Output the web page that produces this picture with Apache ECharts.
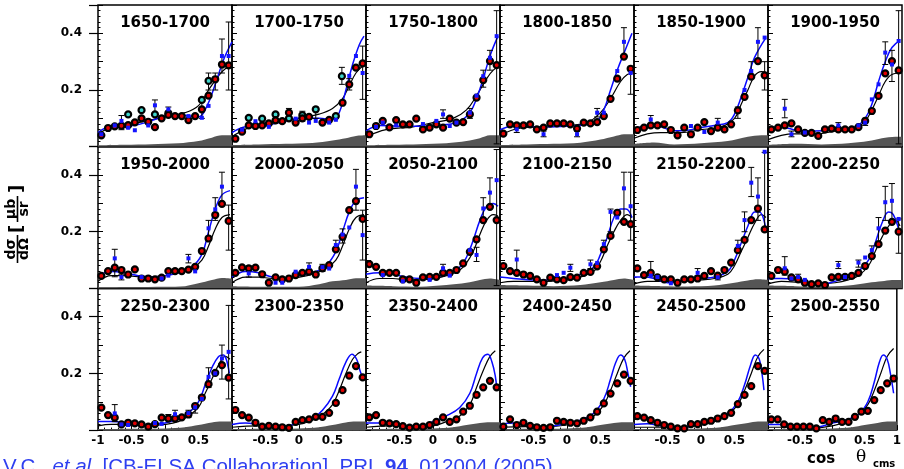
<!DOCTYPE html>
<html><head><meta charset="utf-8">
<script src="https://cdn.jsdelivr.net/npm/echarts@6/dist/echarts.min.js"></script>
<style>html,body{margin:0;padding:0;background:#fff}#c{width:904px;height:469px}</style>
</head><body><div id="c"></div>
<script>
// ---------- DATA ----------
const panelTitles = ['1650-1700','1700-1750','1750-1800','1800-1850','1850-1900','1900-1950',
  '1950-2000','2000-2050','2050-2100','2100-2150','2150-2200','2200-2250',
  '2250-2300','2300-2350','2350-2400','2400-2450','2450-2500','2500-2550'];
const yTickLabels = [0.2, 0.4];
const xTickLabels = [-1, -0.5, 0, 0.5, 1];

// Panel 1
const red1 = [[-0.95,0.04],[-0.85,0.066],[-0.75,0.072],[-0.65,0.074],[-0.55,0.076],[-0.45,0.086],[-0.35,0.1],[-0.25,0.088],[-0.15,0.069],[-0.05,0.1],[0.05,0.112],[0.15,0.108],[0.25,0.108],[0.35,0.094],[0.45,0.108],[0.55,0.132],[0.65,0.18],[0.75,0.238],[0.85,0.29],[0.95,0.287]];
const cyan1 = [[-0.55,0.114],[-0.35,0.129],[-0.15,0.114],[0.05,0.118],[0.55,0.165],[0.65,0.232]];
const blue1 = [[-0.95,0.044],[-0.75,0.075],[-0.65,0.091],[-0.55,0.067],[-0.45,0.058],[-0.25,0.075],[-0.15,0.146],[0.05,0.132],[0.35,0.108],[0.55,0.102],[0.65,0.144],[0.85,0.32],[0.95,0.32]];
const err1 = [[-0.65,0.06,0.11],[-0.15,0.12,0.165],[0.05,0.12,0.14],[0.55,0.1,0.16],[0.65,0.2,0.26],[0.75,0.2,0.26],[0.85,0.26,0.38],[0.95,0.2,0.44]];
const black1 = [[-1,0.045],[-0.8,0.068],[-0.6,0.075],[-0.3,0.09],[0,0.105],[0.3,0.12],[0.5,0.145],[0.65,0.2],[0.8,0.25],[0.9,0.275],[1,0.285]];
const bluec1 = [[-1,0.05],[-0.8,0.072],[-0.5,0.074],[-0.2,0.092],[0,0.108],[0.3,0.11],[0.5,0.105],[0.62,0.14],[0.75,0.22],[0.88,0.31],[1,0.37]];
const band1 = [[-1,0.005],[-0.6,0.007],[-0.2,0.009],[0.2,0.012],[0.5,0.02],[0.7,0.032],[0.85,0.04],[1,0.04]];
// Panel 2
const red2 = [[-0.95,0.028],[-0.85,0.053],[-0.75,0.075],[-0.65,0.073],[-0.55,0.075],[-0.45,0.082],[-0.35,0.093],[-0.25,0.09],[-0.15,0.12],[-0.05,0.085],[0.05,0.1],[0.15,0.105],[0.35,0.085],[0.45,0.095],[0.65,0.155],[0.75,0.22],[0.85,0.279],[0.95,0.294]];
const cyan2 = [[-0.75,0.102],[-0.55,0.099],[-0.35,0.114],[-0.15,0.1],[0.05,0.111],[0.25,0.132],[0.55,0.108],[0.64,0.249]];
const blue2 = [[-0.85,0.06],[-0.65,0.09],[-0.45,0.07],[-0.05,0.099],[0.15,0.085],[0.25,0.091],[0.45,0.085],[0.55,0.095],[0.75,0.25],[0.85,0.32],[0.95,0.26]];
const err2 = [[-0.15,0.1,0.135],[0.05,0.09,0.125],[0.25,0.1,0.14],[0.64,0.22,0.28],[0.75,0.2,0.24],[0.95,0.167,0.355]];
const black2 = [[-1,0.035],[-0.8,0.062],[-0.6,0.075],[-0.3,0.09],[0,0.1],[0.3,0.115],[0.5,0.135],[0.65,0.17],[0.75,0.215],[0.85,0.26],[0.95,0.285],[1,0.29]];
const bluec2 = [[-1,0.05],[-0.8,0.07],[-0.5,0.075],[-0.2,0.09],[0,0.1],[0.3,0.1],[0.5,0.095],[0.6,0.12],[0.7,0.2],[0.8,0.29],[0.9,0.36],[0.97,0.39]];
const band2 = [[-1,0.006],[-0.6,0.008],[-0.2,0.01],[0.2,0.013],[0.5,0.022],[0.7,0.03],[0.85,0.038],[1,0.04]];
// Panel 3
const red3 = [[-0.95,0.044],[-0.85,0.073],[-0.75,0.091],[-0.65,0.068],[-0.55,0.094],[-0.45,0.079],[-0.35,0.079],[-0.25,0.099],[-0.15,0.061],[-0.05,0.067],[0.05,0.079],[0.15,0.067],[0.25,0.099],[0.35,0.085],[0.45,0.087],[0.55,0.114],[0.65,0.173],[0.75,0.235],[0.85,0.302],[0.95,0.288]];
const blue3 = [[-0.85,0.07],[-0.75,0.085],[-0.55,0.075],[-0.15,0.08],[0.05,0.091],[0.15,0.114],[0.25,0.073],[0.35,0.085],[0.55,0.12],[0.65,0.18],[0.75,0.249],[0.85,0.314],[0.95,0.39]];
const err3 = [[0.15,0.1,0.13],[0.55,0.1,0.135],[0.75,0.21,0.27],[0.85,0.27,0.34],[0.95,0.01,0.48]];
const black3 = [[-1,0.035],[-0.7,0.06],[-0.3,0.07],[0,0.085],[0.3,0.1],[0.5,0.13],[0.65,0.18],[0.8,0.24],[0.9,0.27],[1,0.285]];
const bluec3 = [[-1,0.055],[-0.8,0.075],[-0.5,0.072],[-0.2,0.072],[0.2,0.078],[0.4,0.09],[0.55,0.12],[0.65,0.17],[0.75,0.24],[0.85,0.32],[0.97,0.39]];
const band3 = [[-1,0.005],[-0.6,0.007],[-0.2,0.009],[0.2,0.012],[0.5,0.02],[0.7,0.03],[0.85,0.04],[1,0.04]];
// Panel 4
const red4 = [[-0.95,0.046],[-0.85,0.079],[-0.75,0.075],[-0.65,0.075],[-0.55,0.079],[-0.45,0.061],[-0.35,0.067],[-0.25,0.082],[-0.15,0.082],[-0.05,0.082],[0.05,0.079],[0.15,0.064],[0.25,0.085],[0.35,0.082],[0.45,0.087],[0.55,0.108],[0.65,0.169],[0.75,0.24],[0.85,0.318],[0.95,0.275]];
const blue4 = [[-0.75,0.061],[-0.35,0.044],[0.15,0.044],[0.45,0.12],[0.55,0.12],[0.75,0.267],[0.85,0.37],[0.95,0.26]];
const err4 = [[-0.75,0.05,0.075],[-0.35,0.035,0.055],[0.15,0.035,0.055],[0.45,0.105,0.135],[0.85,0.32,0.42],[0.95,0.185,0.28]];
const black4 = [[-1,0.04],[-0.7,0.065],[-0.3,0.07],[0,0.075],[0.3,0.085],[0.5,0.12],[0.65,0.17],[0.8,0.23],[0.9,0.255],[1,0.26]];
const bluec4 = [[-1,0.06],[-0.8,0.072],[-0.4,0.07],[0,0.072],[0.3,0.078],[0.45,0.09],[0.55,0.13],[0.65,0.2],[0.75,0.27],[0.85,0.33],[0.97,0.4]];
const band4 = [[-1,0.006],[-0.6,0.008],[-0.2,0.01],[0.2,0.014],[0.5,0.025],[0.7,0.036],[0.85,0.044],[1,0.044]];
// Panel 5
const red5 = [[-0.95,0.059],[-0.85,0.067],[-0.75,0.075],[-0.65,0.075],[-0.55,0.079],[-0.45,0.059],[-0.35,0.04],[-0.25,0.067],[-0.15,0.044],[-0.05,0.067],[0.05,0.087],[0.15,0.055],[0.25,0.067],[0.35,0.061],[0.45,0.079],[0.55,0.128],[0.65,0.176],[0.75,0.247],[0.85,0.302],[0.95,0.252]];
const blue5 = [[-0.75,0.096],[-0.15,0.073],[0.05,0.052],[0.25,0.085],[0.65,0.2],[0.75,0.267],[0.85,0.37],[0.95,0.385]];
const err5 = [[-0.75,0.08,0.11],[0.25,0.07,0.1],[0.55,0.1,0.14],[0.75,0.24,0.3],[0.85,0.3,0.42],[0.95,0.2,0.3]];
const black5 = [[-1,0.03],[-0.8,0.045],[-0.6,0.05],[-0.3,0.05],[0,0.06],[0.3,0.07],[0.5,0.1],[0.6,0.15],[0.7,0.2],[0.8,0.25],[0.9,0.265],[1,0.26]];
const bluec5 = [[-1,0.06],[-0.8,0.075],[-0.6,0.07],[-0.4,0.056],[-0.2,0.058],[0,0.068],[0.2,0.075],[0.4,0.085],[0.5,0.115],[0.6,0.175],[0.7,0.245],[0.8,0.315],[0.97,0.385]];
const band5 = [[-1,0.01],[-0.7,0.015],[-0.4,0.008],[0,0.012],[0.4,0.02],[0.7,0.035],[0.9,0.04],[1,0.04]];
// Panel 6
const red6 = [[-0.95,0.061],[-0.85,0.067],[-0.75,0.075],[-0.65,0.082],[-0.55,0.061],[-0.45,0.049],[-0.35,0.049],[-0.25,0.038],[-0.15,0.061],[-0.05,0.064],[0.05,0.061],[0.15,0.061],[0.25,0.061],[0.35,0.069],[0.45,0.091],[0.55,0.126],[0.65,0.179],[0.75,0.259],[0.85,0.302],[0.95,0.269]];
const blue6 = [[-0.75,0.134],[-0.65,0.044],[-0.45,0.05],[0.05,0.075],[0.35,0.075],[0.45,0.085],[0.55,0.167],[0.65,0.22],[0.75,0.332],[0.85,0.29],[0.95,0.373]];
const err6 = [[-0.75,0.102,0.167],[-0.65,0.035,0.055],[0.05,0.065,0.085],[0.45,0.075,0.1],[0.75,0.29,0.37],[0.85,0.23,0.34],[0.95,0.01,0.48]];
const black6 = [[-1,0.025],[-0.8,0.04],[-0.6,0.045],[-0.3,0.045],[0,0.055],[0.3,0.065],[0.45,0.09],[0.55,0.13],[0.65,0.18],[0.75,0.23],[0.85,0.255],[1,0.26]];
const bluec6 = [[-1,0.06],[-0.85,0.07],[-0.7,0.065],[-0.5,0.055],[-0.3,0.055],[0,0.06],[0.3,0.07],[0.45,0.1],[0.55,0.15],[0.65,0.23],[0.75,0.3],[0.85,0.35],[0.97,0.375]];
const band6 = [[-1,0.006],[-0.6,0.01],[-0.2,0.008],[0.2,0.012],[0.5,0.02],[0.7,0.03],[0.9,0.035],[1,0.035]];
// Panel 7
const red7 = [[-0.95,0.044],[-0.85,0.061],[-0.75,0.073],[-0.65,0.065],[-0.55,0.049],[-0.45,0.067],[-0.35,0.035],[-0.25,0.035],[-0.15,0.032],[-0.05,0.038],[0.05,0.061],[0.15,0.061],[0.25,0.061],[0.35,0.066],[0.45,0.076],[0.55,0.132],[0.65,0.176],[0.75,0.259],[0.85,0.298],[0.95,0.238]];
const blue7 = [[-0.75,0.106],[-0.65,0.04],[-0.35,0.04],[-0.05,0.035],[0.05,0.045],[0.35,0.106],[0.45,0.06],[0.65,0.212],[0.75,0.279],[0.85,0.359]];
const err7 = [[-0.75,0.041,0.138],[-0.65,0.03,0.05],[0.35,0.09,0.12],[0.65,0.18,0.24],[0.75,0.24,0.32],[0.85,0.3,0.41],[0.95,0.135,0.294]];
const black7 = [[-1,0.025],[-0.8,0.045],[-0.6,0.045],[-0.3,0.04],[0,0.045],[0.2,0.055],[0.4,0.07],[0.55,0.1],[0.65,0.15],[0.75,0.21],[0.85,0.25],[0.97,0.26]];
const bluec7 = [[-1,0.045],[-0.8,0.06],[-0.6,0.055],[-0.4,0.045],[-0.2,0.04],[0,0.045],[0.2,0.055],[0.4,0.075],[0.55,0.12],[0.65,0.2],[0.75,0.28],[0.85,0.33],[0.97,0.345]];
const band7 = [[-1,0.004],[-0.5,0.005],[0,0.006],[0.3,0.008],[0.5,0.018],[0.7,0.03],[0.85,0.037],[1,0.035]];
// Panel 8
const red8 = [[-0.95,0.055],[-0.85,0.074],[-0.75,0.071],[-0.65,0.073],[-0.55,0.05],[-0.45,0.02],[-0.35,0.039],[-0.25,0.032],[-0.15,0.035],[-0.05,0.047],[0.05,0.055],[0.15,0.059],[0.25,0.049],[0.35,0.071],[0.45,0.082],[0.55,0.138],[0.65,0.182],[0.75,0.276],[0.85,0.308],[0.95,0.245]];
const blue8 = [[-0.75,0.053],[-0.35,0.02],[-0.25,0.02],[-0.05,0.059],[0.15,0.076],[0.35,0.075],[0.45,0.07],[0.55,0.153],[0.65,0.19],[0.75,0.215],[0.85,0.359],[0.95,0.188]];
const err8 = [[-0.75,0.04,0.08],[0.15,0.065,0.09],[0.35,0.06,0.085],[0.55,0.13,0.17],[0.65,0.16,0.21],[0.85,0.276,0.42],[0.95,0.1,0.276]];
const black8 = [[-1,0.02],[-0.8,0.04],[-0.6,0.04],[-0.4,0.035],[-0.2,0.035],[0,0.04],[0.2,0.05],[0.4,0.07],[0.55,0.1],[0.65,0.15],[0.75,0.21],[0.85,0.25],[0.97,0.26]];
const bluec8 = [[-1,0.04],[-0.8,0.06],[-0.6,0.055],[-0.4,0.04],[-0.2,0.035],[0,0.045],[0.2,0.055],[0.4,0.08],[0.55,0.13],[0.65,0.2],[0.75,0.27],[0.85,0.31],[0.97,0.32]];
const band8 = [[-1,0.008],[-0.5,0.006],[0,0.006],[0.3,0.015],[0.5,0.025],[0.7,0.03],[0.85,0.036],[1,0.036]];
// Panel 9
const red9 = [[-0.95,0.086],[-0.85,0.076],[-0.75,0.055],[-0.65,0.055],[-0.55,0.055],[-0.45,0.032],[-0.35,0.032],[-0.25,0.02],[-0.15,0.039],[-0.05,0.041],[0.05,0.041],[0.15,0.055],[0.25,0.055],[0.35,0.065],[0.45,0.088],[0.55,0.129],[0.65,0.173],[0.75,0.241],[0.85,0.288],[0.95,0.241]];
const blue9 = [[-0.75,0.047],[-0.45,0.025],[-0.05,0.03],[0.15,0.071],[0.25,0.045],[0.55,0.135],[0.65,0.118],[0.75,0.282],[0.85,0.338],[0.95,0.382]];
const err9 = [[-0.75,0.035,0.06],[0.15,0.055,0.085],[0.65,0.095,0.145],[0.75,0.24,0.32],[0.85,0.29,0.39],[0.95,0.01,0.49]];
const black9 = [[-1,0.02],[-0.8,0.035],[-0.6,0.035],[-0.4,0.03],[-0.2,0.03],[0,0.035],[0.2,0.045],[0.4,0.065],[0.5,0.09],[0.6,0.13],[0.7,0.19],[0.8,0.24],[0.9,0.26],[0.97,0.255]];
const bluec9 = [[-1,0.05],[-0.8,0.055],[-0.6,0.05],[-0.4,0.04],[-0.2,0.035],[0,0.04],[0.2,0.05],[0.4,0.075],[0.5,0.11],[0.6,0.17],[0.7,0.24],[0.8,0.29],[0.9,0.3],[0.97,0.29]];
const band9 = [[-1,0.01],[-0.6,0.008],[-0.2,0.006],[0.2,0.012],[0.5,0.02],[0.7,0.03],[0.85,0.035],[1,0.03]];
// Panel 10
const red10 = [[-0.95,0.079],[-0.85,0.061],[-0.75,0.055],[-0.65,0.049],[-0.55,0.044],[-0.45,0.032],[-0.35,0.02],[-0.25,0.038],[-0.15,0.032],[-0.05,0.029],[0.05,0.04],[0.15,0.038],[0.25,0.055],[0.35,0.058],[0.45,0.078],[0.55,0.138],[0.65,0.185],[0.75,0.267],[0.85,0.235],[0.95,0.227]];
const blue10 = [[-0.75,0.102],[-0.15,0.047],[-0.05,0.055],[0.05,0.073],[0.35,0.085],[0.45,0.09],[0.55,0.156],[0.65,0.27],[0.75,0.25],[0.85,0.353],[0.95,0.29]];
const err10 = [[-0.75,0.059,0.135],[0.05,0.06,0.085],[0.35,0.07,0.1],[0.55,0.13,0.17],[0.65,0.2,0.28],[0.85,0.235,0.41],[0.95,0.17,0.41]];
const black10 = [[-1,0.02],[-0.8,0.025],[-0.5,0.025],[-0.3,0.025],[0,0.03],[0.2,0.04],[0.4,0.06],[0.5,0.095],[0.6,0.15],[0.7,0.2],[0.8,0.24],[0.9,0.26],[0.97,0.25]];
const bluec10 = [[-1,0.04],[-0.8,0.035],[-0.5,0.03],[-0.3,0.03],[0,0.035],[0.2,0.05],[0.4,0.075],[0.5,0.12],[0.6,0.18],[0.7,0.25],[0.8,0.28],[0.88,0.28],[0.97,0.25]];
const band10 = [[-1,0.012],[-0.6,0.01],[-0.2,0.008],[0.2,0.012],[0.5,0.022],[0.7,0.03],[0.85,0.035],[1,0.03]];
// Panel 11
const red11 = [[-0.95,0.071],[-0.85,0.047],[-0.75,0.055],[-0.65,0.039],[-0.55,0.032],[-0.45,0.032],[-0.35,0.02],[-0.25,0.032],[-0.15,0.032],[-0.05,0.035],[0.05,0.044],[0.15,0.061],[0.25,0.045],[0.35,0.065],[0.45,0.091],[0.55,0.135],[0.65,0.171],[0.75,0.241],[0.85,0.282],[0.95,0.208]];
const blue11 = [[-0.75,0.045],[-0.65,0.04],[-0.45,0.018],[-0.05,0.055],[0.25,0.039],[0.55,0.15],[0.65,0.241],[0.75,0.373],[0.85,0.324],[0.95,0.482]];
const err11 = [[-0.75,0.045,0.095],[-0.05,0.045,0.07],[0.25,0.03,0.05],[0.55,0.13,0.17],[0.65,0.2,0.27],[0.75,0.324,0.427],[0.85,0.24,0.39],[0.95,0.2,0.48]];
const black11 = [[-1,0.015],[-0.8,0.025],[-0.5,0.025],[-0.3,0.025],[0,0.03],[0.2,0.035],[0.4,0.05],[0.5,0.08],[0.6,0.13],[0.7,0.18],[0.8,0.23],[0.9,0.26],[0.97,0.25]];
const bluec11 = [[-1,0.04],[-0.85,0.04],[-0.7,0.035],[-0.5,0.02],[-0.3,0.025],[0,0.035],[0.2,0.04],[0.4,0.06],[0.5,0.1],[0.6,0.16],[0.7,0.22],[0.8,0.27],[0.87,0.27],[0.96,0.22]];
const band11 = [[-1,0.01],[-0.6,0.008],[-0.2,0.007],[0.2,0.01],[0.5,0.02],[0.7,0.028],[0.85,0.032],[1,0.03]];
// Panel 12
const red12 = [[-0.95,0.044],[-0.85,0.065],[-0.75,0.059],[-0.65,0.039],[-0.55,0.032],[-0.45,0.02],[-0.35,0.015],[-0.25,0.018],[-0.15,0.012],[-0.05,0.039],[0.05,0.041],[0.15,0.041],[0.25,0.044],[0.35,0.055],[0.45,0.079],[0.55,0.114],[0.65,0.156],[0.75,0.204],[0.85,0.235],[0.95,0.2]];
const blue12 = [[-0.75,0.071],[-0.65,0.035],[-0.55,0.04],[-0.45,0.03],[0.05,0.082],[0.15,0.04],[0.35,0.091],[0.45,0.109],[0.55,0.135],[0.65,0.212],[0.75,0.304],[0.85,0.309],[0.95,0.245]];
const err12 = [[-0.75,0.047,0.112],[-0.55,0.03,0.05],[0.05,0.07,0.095],[0.35,0.075,0.1],[0.55,0.12,0.15],[0.65,0.16,0.25],[0.75,0.24,0.36],[0.85,0.24,0.37],[0.95,0.124,0.245]];
const black12 = [[-1,0.015],[-0.8,0.025],[-0.5,0.02],[-0.3,0.015],[0,0.02],[0.2,0.03],[0.35,0.045],[0.5,0.08],[0.6,0.13],[0.7,0.18],[0.8,0.22],[0.9,0.24],[0.97,0.22]];
const bluec12 = [[-1,0.035],[-0.8,0.035],[-0.6,0.03],[-0.4,0.015],[-0.2,0.015],[0,0.025],[0.2,0.04],[0.35,0.06],[0.5,0.1],[0.6,0.16],[0.7,0.23],[0.8,0.27],[0.87,0.26],[0.96,0.2]];
const band12 = [[-1,0.01],[-0.6,0.008],[-0.2,0.006],[0.2,0.01],[0.5,0.02],[0.7,0.025],[0.85,0.03],[1,0.03]];
// Panel 13
const red13 = [[-0.95,0.079],[-0.85,0.053],[-0.75,0.044],[-0.65,0.02],[-0.55,0.026],[-0.45,0.024],[-0.35,0.02],[-0.25,0.012],[-0.15,0.021],[-0.05,0.044],[0.05,0.041],[0.15,0.041],[0.25,0.045],[0.35,0.055],[0.45,0.085],[0.55,0.115],[0.65,0.162],[0.75,0.202],[0.85,0.229],[0.95,0.185]];
const blue13 = [[-0.75,0.059],[-0.65,0.02],[-0.55,0.018],[-0.15,0.025],[-0.05,0.022],[0.15,0.056],[0.35,0.06],[0.45,0.08],[0.55,0.11],[0.65,0.188],[0.75,0.2],[0.85,0.253],[0.95,0.276]];
const err13 = [[-0.75,0.03,0.09],[0.05,0.035,0.055],[0.15,0.04,0.07],[0.35,0.045,0.07],[0.45,0.06,0.09],[0.65,0.15,0.22],[0.85,0.18,0.3],[0.95,0.11,0.44]];
const black13 = [[-1,0.015],[-0.8,0.02],[-0.5,0.02],[-0.3,0.015],[0,0.02],[0.2,0.03],[0.35,0.05],[0.5,0.08],[0.6,0.13],[0.7,0.18],[0.8,0.23],[0.9,0.26],[0.97,0.25]];
const bluec13 = [[-1,0.03],[-0.8,0.03],[-0.5,0.025],[-0.3,0.02],[0,0.025],[0.2,0.04],[0.35,0.06],[0.5,0.1],[0.6,0.16],[0.7,0.22],[0.8,0.26],[0.87,0.265],[0.96,0.2]];
const band13 = [[-1,0.004],[-0.5,0.005],[0,0.006],[0.3,0.01],[0.5,0.018],[0.7,0.027],[0.85,0.03],[1,0.03]];
// Panel 14
const red14 = [[-0.95,0.071],[-0.85,0.053],[-0.75,0.044],[-0.65,0.026],[-0.55,0.012],[-0.45,0.015],[-0.35,0.012],[-0.25,0.01],[-0.15,0.008],[-0.05,0.029],[0.05,0.035],[0.15,0.038],[0.25,0.047],[0.35,0.047],[0.45,0.061],[0.55,0.096],[0.65,0.141],[0.75,0.192],[0.85,0.226],[0.95,0.186]];
const black14 = [[-1,0.01],[-0.6,0.015],[-0.3,0.015],[0,0.02],[0.2,0.035],[0.35,0.055],[0.5,0.09],[0.6,0.14],[0.7,0.2],[0.8,0.25],[0.88,0.27],[0.93,0.276]];
const bluec14 = [[-1,0.02],[-0.8,0.025],[-0.6,0.02],[-0.4,0.015],[-0.2,0.015],[0,0.025],[0.2,0.04],[0.35,0.07],[0.5,0.12],[0.6,0.18],[0.7,0.24],[0.79,0.268],[0.86,0.25],[0.91,0.21],[0.94,0.19]];
const band14 = [[-1,0.004],[-0.5,0.005],[0,0.006],[0.3,0.01],[0.5,0.018],[0.7,0.027],[0.85,0.03],[1,0.03]];
// Panel 15
const red15 = [[-0.95,0.045],[-0.85,0.053],[-0.75,0.026],[-0.65,0.024],[-0.55,0.021],[-0.45,0.014],[-0.35,0.009],[-0.25,0.012],[-0.15,0.012],[-0.05,0.018],[0.05,0.029],[0.15,0.045],[0.25,0.029],[0.35,0.038],[0.45,0.065],[0.55,0.086],[0.65,0.124],[0.75,0.151],[0.85,0.174],[0.95,0.151]];
const black15 = [[-1,0.01],[-0.6,0.015],[-0.3,0.01],[0,0.015],[0.2,0.03],[0.4,0.05],[0.55,0.09],[0.65,0.15],[0.75,0.21],[0.85,0.26],[0.93,0.28]];
const bluec15 = [[-1,0.025],[-0.7,0.025],[-0.4,0.015],[-0.2,0.015],[0,0.03],[0.2,0.05],[0.4,0.08],[0.55,0.13],[0.65,0.2],[0.74,0.255],[0.82,0.268],[0.88,0.24],[0.93,0.19],[0.95,0.15]];
const band15 = [[-1,0.004],[-0.5,0.005],[0,0.006],[0.3,0.01],[0.5,0.018],[0.7,0.025],[0.85,0.028],[1,0.028]];
// Panel 16
const red16 = [[-0.95,0.012],[-0.85,0.038],[-0.75,0.018],[-0.65,0.026],[-0.55,0.015],[-0.45,0.01],[-0.35,0.008],[-0.25,0.01],[-0.15,0.033],[-0.05,0.029],[0.05,0.026],[0.15,0.024],[0.25,0.033],[0.35,0.045],[0.45,0.065],[0.55,0.094],[0.65,0.129],[0.75,0.165],[0.85,0.196],[0.95,0.174]];
const black16 = [[-1,0.01],[-0.6,0.012],[-0.3,0.012],[0,0.018],[0.2,0.03],[0.4,0.05],[0.55,0.09],[0.65,0.14],[0.75,0.2],[0.85,0.255],[0.94,0.28]];
const bluec16 = [[-1,0.02],[-0.8,0.025],[-0.6,0.018],[-0.4,0.012],[-0.2,0.015],[0,0.025],[0.2,0.035],[0.4,0.06],[0.55,0.11],[0.65,0.18],[0.73,0.24],[0.8,0.265],[0.86,0.25],[0.91,0.2],[0.95,0.153]];
const band16 = [[-1,0.004],[-0.5,0.005],[0,0.006],[0.3,0.01],[0.5,0.018],[0.7,0.025],[0.85,0.028],[1,0.028]];
// Panel 17
const red17 = [[-0.95,0.049],[-0.85,0.044],[-0.75,0.035],[-0.65,0.026],[-0.55,0.018],[-0.45,0.012],[-0.35,0.006],[-0.25,0.006],[-0.15,0.021],[-0.05,0.021],[0.05,0.029],[0.15,0.033],[0.25,0.041],[0.35,0.049],[0.45,0.061],[0.55,0.092],[0.65,0.124],[0.75,0.155],[0.85,0.226],[0.95,0.209]];
const black17 = [[-1,0.01],[-0.6,0.01],[-0.3,0.008],[0,0.018],[0.2,0.03],[0.4,0.055],[0.55,0.09],[0.65,0.14],[0.75,0.2],[0.85,0.26],[0.94,0.285]];
const bluec17 = [[-1,0.02],[-0.8,0.022],[-0.6,0.015],[-0.4,0.008],[-0.2,0.012],[0,0.025],[0.2,0.04],[0.4,0.06],[0.55,0.1],[0.65,0.16],[0.74,0.23],[0.81,0.265],[0.87,0.25],[0.91,0.2],[0.94,0.141]];
const band17 = [[-1,0.004],[-0.5,0.005],[0,0.006],[0.3,0.01],[0.5,0.018],[0.7,0.025],[0.85,0.03],[1,0.03]];
// Panel 18
const red18 = [[-0.95,0.038],[-0.85,0.038],[-0.75,0.02],[-0.65,0.012],[-0.55,0.012],[-0.45,0.012],[-0.35,0.012],[-0.25,0.006],[-0.15,0.035],[-0.05,0.029],[0.05,0.041],[0.15,0.029],[0.25,0.029],[0.35,0.047],[0.45,0.065],[0.55,0.068],[0.65,0.106],[0.75,0.141],[0.85,0.165],[0.95,0.182]];
const black18 = [[-1,0.01],[-0.6,0.01],[-0.3,0.008],[0,0.015],[0.2,0.03],[0.4,0.055],[0.55,0.09],[0.65,0.14],[0.75,0.2],[0.85,0.26],[0.95,0.288]];
const bluec18 = [[-1,0.02],[-0.8,0.02],[-0.6,0.012],[-0.4,0.008],[-0.2,0.012],[0,0.025],[0.2,0.035],[0.4,0.055],[0.55,0.1],[0.65,0.17],[0.73,0.24],[0.79,0.265],[0.85,0.25],[0.9,0.2],[0.95,0.13]];
const band18 = [[-1,0.004],[-0.5,0.005],[0,0.006],[0.3,0.01],[0.5,0.018],[0.7,0.025],[0.85,0.03],[1,0.03]];

const reds = [red1,red2,red3,red4,red5,red6,red7,red8,red9,red10,red11,red12,red13,red14,red15,red16,red17,red18];
const cyans = [cyan1,cyan2,[],[],[],[],[],[],[],[],[],[],[],[],[],[],[],[]];
const blues = [blue1,blue2,blue3,blue4,blue5,blue6,blue7,blue8,blue9,blue10,blue11,blue12,blue13,[],[],[],[],[]];
const errs = [err1,err2,err3,err4,err5,err6,err7,err8,err9,err10,err11,err12,err13,[],[],[],[],[]];
const blacks = [black1,black2,black3,black4,black5,black6,black7,black8,black9,black10,black11,black12,black13,black14,black15,black16,black17,black18];
const bluecs = [bluec1,bluec2,bluec3,bluec4,bluec5,bluec6,bluec7,bluec8,bluec9,bluec10,bluec11,bluec12,bluec13,bluec14,bluec15,bluec16,bluec17,bluec18];
const bands = [band1,band2,band3,band4,band5,band6,band7,band8,band9,band10,band11,band12,band13,band14,band15,band16,band17,band18];

// ---------- LAYOUT ----------
const PL = 98, PW = 134, PT = 5, PH = 141.7;
const FONT = '"DejaVu Sans", sans-serif';
const chart = echarts.init(document.getElementById('c'));
const grid = [], xAxis = [], yAxis = [], series = [], graphic = [];

function errRender(params, api) {
  const x = api.value(0), lo = api.value(1), hi = api.value(2);
  const p1 = api.coord([x, lo]), p2 = api.coord([x, hi]);
  const w = 3, st = {stroke: '#000', lineWidth: 1};
  return {type: 'group', children: [
    {type: 'line', shape: {x1: p1[0], y1: p1[1], x2: p2[0], y2: p2[1]}, style: st},
    {type: 'line', shape: {x1: p1[0]-w, y1: p1[1], x2: p1[0]+w, y2: p1[1]}, style: st},
    {type: 'line', shape: {x1: p2[0]-w, y1: p2[1], x2: p2[0]+w, y2: p2[1]}, style: st}
  ]};
}

for (let i = 0; i < 18; i++) {
  const r = Math.floor(i / 6), c = i % 6;
  grid.push({left: PL + c*PW, top: PT + r*PH, width: PW, height: PH, show: true,
    borderColor: '#000', borderWidth: 1.5, backgroundColor: 'transparent'});
  xAxis.push({gridIndex: i, type: 'value', min: -1, max: 1, interval: 0.5, position: 'bottom',
    axisLine: {show: false, onZero: false}, splitLine: {show: false},
    axisTick: {show: r === 2, inside: true, length: 5, lineStyle: {color: '#000'}},
    minorTick: {show: r === 2, splitNumber: 5, length: 2.5, lineStyle: {color: '#000'}},
    axisLabel: {show: r === 2, margin: 5, color: '#000', fontFamily: FONT, fontWeight: 'bold', fontSize: 12,
      showMinLabel: true, showMaxLabel: true,
      formatter: v => {
        if (xTickLabels.indexOf(v) < 0) return '';
        if (v === -1 && c !== 0) return '';
        if (v === 1 && c !== 5) return '';
        return String(v);
      }}});
  const yi = yAxis.length;
  yAxis.push({gridIndex: i, type: 'value', min: 0, max: 0.5, interval: 0.1, position: 'left',
    axisLine: {show: false, onZero: false}, splitLine: {show: false},
    axisTick: {show: true, inside: true, length: 5, lineStyle: {color: '#000'}},
    minorTick: {show: true, splitNumber: 5, length: 2.5, lineStyle: {color: '#000'}},
    axisLabel: {show: false}});
  if (c === 0) {
    yAxis.push({gridIndex: i, type: 'value', min: 0, max: 0.5, interval: 0.2, position: 'left',
      axisLine: {show: false, onZero: false}, splitLine: {show: false},
      axisTick: {show: true, inside: false, length: 9, lineStyle: {color: '#000', width: 1.2}},
      axisLabel: {show: true, margin: 16, color: '#000', fontFamily: FONT, fontWeight: 'bold', fontSize: 12,
        formatter: v => yTickLabels.indexOf(Math.round(v*10)/10) >= 0 ? v.toFixed(1) : ''}});
  }
  const base = {xAxisIndex: i, yAxisIndex: yi, silent: true, animation: false};
  series.push(Object.assign({type: 'line', data: bands[i], symbol: 'none', smooth: 0.3,
    lineStyle: {width: 0}, areaStyle: {color: '#555555', opacity: 1, origin: 'start'}, z: 1}, base));
  series.push(Object.assign({type: 'line', data: blacks[i], symbol: 'none', smooth: 0.4,
    lineStyle: {color: '#000', width: 1.2}, z: 2}, base));
  series.push(Object.assign({type: 'line', data: bluecs[i], symbol: 'none', smooth: 0.4,
    lineStyle: {color: '#0a0aff', width: 1.5}, z: 3}, base));
  if (errs[i].length) series.push(Object.assign({type: 'custom', data: errs[i], renderItem: errRender,
    encode: {x: 0, y: [1, 2]}, z: 4}, base));
  if (cyans[i].length) series.push(Object.assign({type: 'scatter', data: cyans[i], symbol: 'circle', symbolSize: 6,
    itemStyle: {color: '#3fd6cc', borderColor: '#000', borderWidth: 2.2, opacity: 1}, z: 5}, base));
  series.push(Object.assign({type: 'scatter', data: reds[i], symbol: 'circle', symbolSize: 6,
    itemStyle: {color: '#e00000', borderColor: '#000', borderWidth: 2.2, opacity: 1}, z: 6}, base));
  if (blues[i].length) series.push(Object.assign({type: 'scatter', data: blues[i], symbol: 'rect', symbolSize: 4,
    itemStyle: {color: '#1414ff', opacity: 1}, z: 7}, base));
  graphic.push({type: 'text', x: PL + c*PW + PW/2, y: PT + r*PH + 18.5, silent: true,
    style: {text: panelTitles[i], font: 'bold 15px ' + FONT, fill: '#000', align: 'center', verticalAlign: 'middle'}});
}

// y-axis title: dσ/dΩ [ μb/sr ], rotated
const tf = 'bold 14px ' + FONT;
graphic.push({type: 'group', x: 17.5, y: 247, rotation: Math.PI/2, silent: true, children: [
  {type: 'text', x: -2, y: -6.5, style: {text: 'dσ', font: tf, fill: '#000', align: 'center', verticalAlign: 'middle'}},
  {type: 'line', shape: {x1: -16, y1: 0, x2: 12, y2: 0}, style: {stroke: '#000', lineWidth: 1.6}},
  {type: 'text', x: -2, y: 7, style: {text: 'dΩ', font: tf, fill: '#000', align: 'center', verticalAlign: 'middle'}},
  {type: 'text', x: 18, y: 0, style: {text: '[', font: 'bold 18px ' + FONT, fill: '#000', align: 'center', verticalAlign: 'middle'}},
  {type: 'text', x: 38, y: -6.5, style: {text: 'μb', font: tf, fill: '#000', align: 'center', verticalAlign: 'middle'}},
  {type: 'line', shape: {x1: 25, y1: 0, x2: 51, y2: 0}, style: {stroke: '#000', lineWidth: 1.6}},
  {type: 'text', x: 38, y: 7, style: {text: 'sr', font: tf, fill: '#000', align: 'center', verticalAlign: 'middle'}},
  {type: 'text', x: 58, y: 0, style: {text: ']', font: 'bold 18px ' + FONT, fill: '#000', align: 'center', verticalAlign: 'middle'}}
]});
// x-axis title: cos θ_cms
graphic.push({type: 'text', x: 807, y: 459, silent: true,
  style: {text: 'cos', font: 'bold 15px ' + FONT, fill: '#000', align: 'left', verticalAlign: 'middle'}});
graphic.push({type: 'text', x: 856, y: 458, silent: true,
  style: {text: 'θ', font: '17px "DejaVu Serif", serif', fill: '#000', align: 'left', verticalAlign: 'middle'}});
graphic.push({type: 'text', x: 873, y: 464, silent: true,
  style: {text: 'cms', font: 'bold 10px ' + FONT, fill: '#000', align: 'left', verticalAlign: 'middle'}});
// citation
graphic.push({type: 'text', x: 3, y: 467, silent: true,
  style: {text: '{a|V.C., }{i|et al.}{a| [CB-ELSA Collaboration], PRL }{b|94}{a|, 012004 (2005).}',
    align: 'left', verticalAlign: 'middle',
    rich: {
      a: {font: '20.5px "Liberation Sans", Arial, sans-serif', fill: '#2f3ff0'},
      i: {font: 'italic 20.5px "Liberation Sans", Arial, sans-serif', fill: '#2f3ff0'},
      b: {font: 'bold 20.5px "Liberation Sans", Arial, sans-serif', fill: '#2f3ff0'}
    }}});

chart.setOption({animation: false, grid, xAxis, yAxis, series, graphic});
</script></body></html>
